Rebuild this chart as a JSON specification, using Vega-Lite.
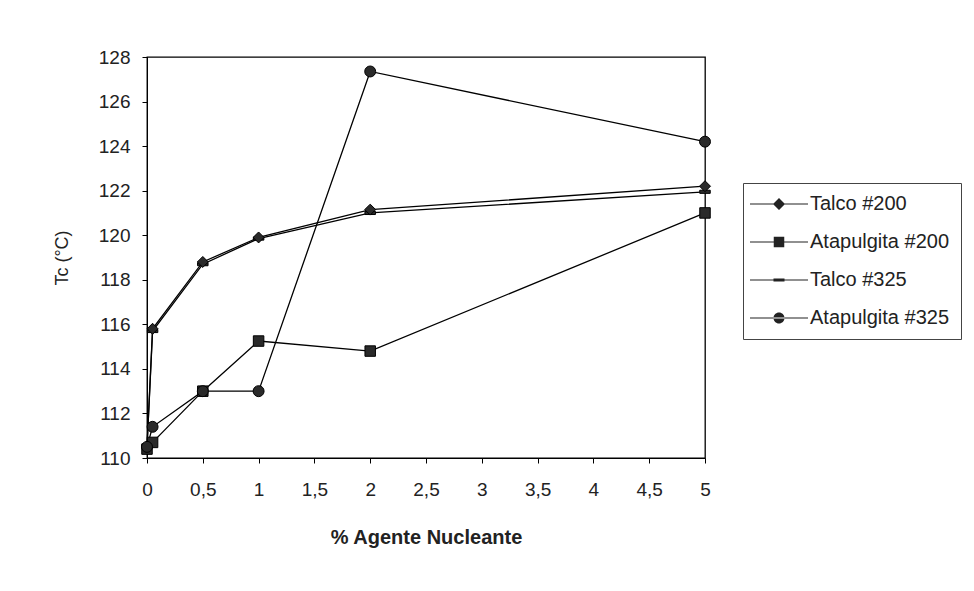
{
  "$schema": "https://vega.github.io/schema/vega-lite/v6.json",
  "width": 558,
  "height": 401,
  "autosize": {"type": "none"},
  "padding": {"left": 147, "top": 57, "right": 269, "bottom": 133},
  "background": "white",
  "config": {
    "view": {"stroke": "black", "strokeWidth": 1.3},
    "font": "Liberation Sans",
    "axis": {"grid": false, "domainColor": "black", "tickColor": "black", "labelColor": "#222", "titleColor": "#222", "labelFont": "Liberation Sans", "titleFont": "Liberation Sans"}
  },
  "data": {
    "values": [
      {"x": 0, "y": 110.5, "serie": "Talco #200"},
      {"x": 0.05, "y": 115.8, "serie": "Talco #200"},
      {"x": 0.5, "y": 118.8, "serie": "Talco #200"},
      {"x": 1, "y": 119.9, "serie": "Talco #200"},
      {"x": 2, "y": 121.15, "serie": "Talco #200"},
      {"x": 5, "y": 122.2, "serie": "Talco #200"},
      {"x": 0, "y": 110.4, "serie": "Atapulgita #200"},
      {"x": 0.05, "y": 110.7, "serie": "Atapulgita #200"},
      {"x": 0.5, "y": 113.0, "serie": "Atapulgita #200"},
      {"x": 1, "y": 115.25, "serie": "Atapulgita #200"},
      {"x": 2, "y": 114.8, "serie": "Atapulgita #200"},
      {"x": 5, "y": 121.0, "serie": "Atapulgita #200"},
      {"x": 0, "y": 110.5, "serie": "Talco #325"},
      {"x": 0.05, "y": 115.7, "serie": "Talco #325"},
      {"x": 0.5, "y": 118.7, "serie": "Talco #325"},
      {"x": 1, "y": 119.85, "serie": "Talco #325"},
      {"x": 2, "y": 121.0, "serie": "Talco #325"},
      {"x": 5, "y": 121.95, "serie": "Talco #325"},
      {"x": 0, "y": 110.5, "serie": "Atapulgita #325"},
      {"x": 0.05, "y": 111.4, "serie": "Atapulgita #325"},
      {"x": 0.5, "y": 113.0, "serie": "Atapulgita #325"},
      {"x": 1, "y": 113.0, "serie": "Atapulgita #325"},
      {"x": 2, "y": 127.35, "serie": "Atapulgita #325"},
      {"x": 5, "y": 124.2, "serie": "Atapulgita #325"}
    ]
  },
  "encoding": {
    "x": {
      "field": "x", "type": "quantitative",
      "scale": {"domain": [0, 5], "nice": false, "zero": false},
      "axis": {
        "values": [0, 0.5, 1, 1.5, 2, 2.5, 3, 3.5, 4, 4.5, 5],
        "labelExpr": "replace(format(datum.value, '~g'), '.', ',')",
        "title": "% Agente Nucleante",
        "titleFontWeight": "bold", "titleFontSize": 20,
        "titleBaseline": "middle", "titleY": 79,
        "labelFontSize": 19, "labelPadding": 17, "tickSize": 5, "labelFlush": false
      }
    },
    "y": {
      "field": "y", "type": "quantitative",
      "scale": {"domain": [110, 128], "nice": false, "zero": false},
      "axis": {
        "values": [110, 112, 114, 116, 118, 120, 122, 124, 126, 128],
        "title": "Tc (°C)", "titleFontWeight": "normal", "titleFontSize": 18,
        "titleX": -85, "titleBaseline": "middle",
        "labelFontSize": 19, "labelPadding": 12, "tickSize": 5
      }
    }
  },
  "layer": [
    {
      "mark": {"type": "line", "color": "black", "strokeWidth": 1.3},
      "encoding": {"detail": {"field": "serie", "type": "nominal"}}
    },
    {
      "transform": [{"filter": "datum.serie == 'Talco #325'"}],
      "mark": {"type": "point", "filled": true, "fill": "#2a2a2a", "stroke": "black", "strokeWidth": 1, "opacity": 1, "size": 110, "shape": "M-1,-0.3H1V0.3H-1Z"}
    },
    {
      "transform": [{"filter": "datum.serie == 'Talco #200'"}],
      "mark": {"type": "point", "filled": true, "fill": "#2a2a2a", "stroke": "black", "strokeWidth": 1, "opacity": 1, "size": 120, "shape": "diamond"}
    },
    {
      "transform": [{"filter": "datum.serie == 'Atapulgita #200'"}],
      "mark": {"type": "point", "filled": true, "fill": "#2a2a2a", "stroke": "black", "strokeWidth": 1, "opacity": 1, "size": 110, "shape": "square"}
    },
    {
      "transform": [{"filter": "datum.serie == 'Atapulgita #325'"}],
      "mark": {"type": "point", "filled": true, "fill": "#2a2a2a", "stroke": "black", "strokeWidth": 1, "opacity": 1, "size": 120, "shape": "circle"}
    },
    {
      "mark": {"type": "point", "filled": true, "fill": "#222", "opacity": 0, "size": 100},
      "encoding": {
        "shape": {
          "field": "serie", "type": "nominal",
          "scale": {
            "domain": ["Talco #200", "Atapulgita #200", "Talco #325", "Atapulgita #325"],
            "range": [
              "M-5.8,-0.11H5.8V0.11H-5.8ZM0,-1.2L1.2,0L0,1.2L-1.2,0Z",
              "M-5.8,-0.11H5.8V0.11H-5.8ZM-1.05,-1.05H1.05V1.05H-1.05Z",
              "M-5.8,-0.11H5.8V0.11H-5.8ZM-1.1,-0.3H1.1V0.3H-1.1Z",
              "M-5.8,-0.11H5.8V0.11H-5.8ZM-1.1,0A1.1,1.1,0,1,0,1.1,0A1.1,1.1,0,1,0,-1.1,0Z"
            ]
          },
          "legend": {
            "title": null,
            "orient": "none",
            "legendX": 596,
            "legendY": 126,
            "padding": 11,
            "strokeColor": "#444",
            "fillColor": "white",
            "labelFont": "Liberation Sans",
            "labelFontSize": 20,
            "labelColor": "#222",
            "rowPadding": 18,
            "symbolSize": 100,
            "symbolOffset": 15,
            "labelOffset": 21,
            "symbolOpacity": 1,
            "symbolFillColor": "#222"
          }
        }
      }
    }
  ]
}
